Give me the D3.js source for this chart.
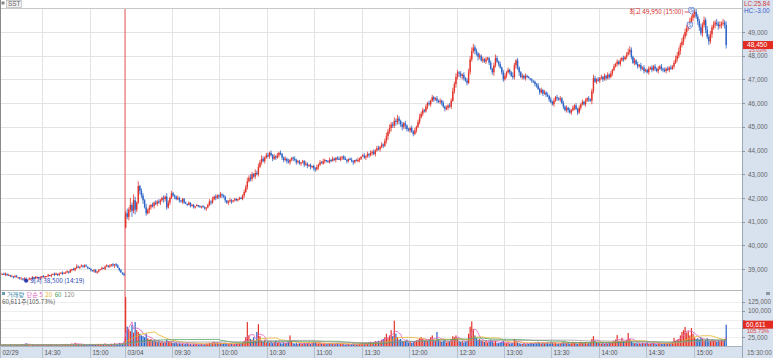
<!DOCTYPE html>
<html><head><meta charset="utf-8">
<script src="https://cdn.jsdelivr.net/npm/d3@7"></script>
<style>
body{margin:0;background:#fff;}
svg{display:block;font-family:"Liberation Sans",Arial,sans-serif;}
</style>
</head><body>
<svg id="chart" width="773" height="358"></svg>
<script>
// ---------------- DATA ----------------
const symbol = "SST";
const dateLabels = ["02/29", "03/04"];
const day1Range = ["14:03", "15:20"];   // plus closing auction 15:30
const day1Extra = ["15:30"];
const day2Range = ["09:00", "15:20"];
const day1FirstOpen = 38800;
const day2FirstOpen = 40750;
const tickSize = 50;

const day1Closes = [
38800,38800,38750,38800,38750,
38750,38700,38700,38650,38700,38650,38650,38600,
38600,38550,38600,38500,38550,38600,
38600,38650,38600,38650,38650,38600,38650,38700,38650,38700,38700,38750,
38700,38750,38800,38750,38800,38750,38800,38850,38800,38850,38850,38900,
38850,38950,39000,38950,39050,39100,39050,39100,
39150,39100,39150,39100,39050,39000,38950,
38900,38950,38850,38900,38950,39000,
39050,39000,39100,39150,39100,39150,39200,39150,39200,
39150,39050,38950,38850,38800,38750];

const day2Closes = [
41350,41200,41500,41700,41450,41900,41500,41800,42500,42300,
42100,41900,41600,41350,41500,41600,41700,41650,41800,41750,
41850,41800,41900,42000,41950,42050,41600,41800,42000,42200,
42100,42050,41950,42000,41900,41850,41950,41800,41750,41700,
41800,41650,41700,41600,41650,41700,41650,41600,41650,41600,
41550,41600,41700,41850,41800,41950,42050,42000,42100,42050,
42150,42100,42050,41900,41800,41850,41900,41850,41900,41950,
41900,41950,42000,41950,42100,42250,42450,42700,42850,42800,
43000,42900,43050,43000,43300,43500,43650,43550,43700,43800,
43750,43900,43800,43650,43750,43700,43800,43900,43850,43700,
43600,43650,43550,43500,43600,43700,43650,43600,43500,43550,
43450,43500,43550,43400,43450,43350,43400,43300,43350,43250,
43200,43300,43400,43500,43450,43550,43600,43550,43500,43600,
43550,43650,43600,43700,43650,43600,43700,43750,43650,43600,
43550,43650,43600,43550,43500,43600,43550,43600,43650,43750,
43800,43700,43750,43850,43800,43900,43950,43850,44000,44100,
44050,44150,44250,44200,44400,44600,44800,44950,45100,45050,
45250,45200,45350,45250,45100,45000,45150,45050,44900,44850,
44950,44800,44700,44850,45000,45200,45400,45550,45700,45650,
45850,46000,45950,46100,46250,46150,46200,46100,46050,46100,
46000,45850,45750,45800,45900,45850,46100,46500,46800,47100,
47300,47250,47150,47200,47050,46950,46850,47300,47850,48200,
48350,48200,48100,47950,48000,47800,47850,47750,47850,47900,
47700,47450,47300,47600,47900,47750,47650,47500,47300,47000,
47150,47300,47400,47300,47150,47100,47600,47800,47500,47300,
47100,47150,47050,47150,47100,47050,47000,46950,46900,46800,
46750,46600,46450,46550,46400,46450,46350,46300,46150,46050,
45950,46100,46250,46200,46150,46200,46000,45850,45700,45800,
45700,45600,45700,45800,45900,45750,45600,45800,45950,46050,
45950,46100,46200,46150,46100,46500,47050,46900,47000,46950,
47050,47100,47000,47150,47050,47200,47100,47250,47400,47550,
47650,47750,47650,47800,47900,47850,47950,48050,48150,48250,
47950,47700,47800,47650,47550,47600,47450,47500,47350,47400,
47300,47450,47500,47400,47550,47450,47350,47450,47550,47450,
47400,47350,47450,47400,47500,47450,47550,47700,47850,48000,
48200,48450,48600,48800,49000,49150,49300,49450,49600,49750,
49850,49650,49450,49200,48950,49300,49500,49100,48800,48600,
48900,49200,49300,49400,49350,49250,49300,49350,49400,49300,
48450];

// wick lengths in price ticks above max(open,close) / below min(open,close), one digit per candle
const day1WickHigh = "1011010101 1001011010 1011010100 1010110101 0110101021 0101100101 1010101101 010110101";
const day1WickLow  = "0101101010 0110110101 0101011010 1010101101 0101010110 1011010101 0110101011 112101011";
const day2WickHigh =
"3426253145 2213121212 1211213212 1112101110 1011010101 1012121211 2111012101 1011122323 2132323212 2121212121 " +
"1212101211 1011210101 1212121012 1210121012 1012101210 1212121212 2121232322 3232121211 1212123221 2121211212 " +
"1212122323 2121212333 3221212121 1212321212 2121132121 1212110101 1212121212 1212121212 1212121212 1212123212 " +
"1212121212 1212121233 2121212121 1212121212 1212121233 3232332323 2322323232 3232323232 3";
const day2WickLow =
"1232524213 2312132121 2121322121 1211212101 0101101010 1211211212 1212121211 1110121212 2121212121 1212121212 " +
"2121212121 1212121212 2121012101 1012101210 2101210121 0121212121 1212123232 2323232321 2121212121 1212121212 " +
"2121212123 2323212122 2323212121 2123212122 1212122323 1212101212 2121212121 1212121212 2121212121 1212132121 " +
"2121212121 1212121212 2121212121 1212121212 2121211212 2323232323 3233232323 2323232323 3";

// volume in thousand shares
const day1Volumes = [
3,2,4,3,2,3,5,3,2,4, 3,3,2,5,4,6,8,4,3,2, 3,4,2,3,3,2,4,3,2,3,
4,3,5,3,2,4,3,3,5,4, 3,6,4,3,5,7,4,9,6,5, 4,3,5,4,3,2,4,5,3,4,
3,6,5,4,3,5,7,4,3,5, 6,4,8,5,6,9,7,8,12];

const day2Volumes = [
139,55,48,42,60,38,68,45,40,35,
30,28,25,35,22,18,20,15,16,14,
12,15,10,12,9,11,18,14,12,10,
9,8,10,7,8,6,7,5,6,8,
5,6,4,7,5,6,4,5,6,4,
5,7,6,9,8,10,12,8,9,7,
8,6,7,9,6,5,7,6,5,6,
7,6,8,7,10,15,25,68,30,20,
18,25,15,40,62,28,15,12,18,10,
14,9,12,8,10,15,9,11,8,7,
10,8,9,12,30,14,8,7,9,6,
8,7,6,9,7,8,10,6,9,12,
11,8,7,9,6,8,7,5,6,8,
6,7,5,6,8,5,7,6,5,4,
5,6,4,5,7,5,4,6,5,7,
8,6,9,7,10,12,8,11,14,12,
15,12,18,20,25,35,22,30,45,28,
72,35,25,18,20,15,12,14,18,10,
12,9,11,14,16,18,22,25,20,15,
18,14,20,25,30,18,15,40,20,14,
12,15,18,10,12,14,20,28,25,30,
22,15,12,14,10,12,15,35,55,70,
48,30,22,18,20,15,14,12,15,10,
12,18,14,10,15,9,8,10,12,14,
9,8,10,7,8,9,20,15,10,8,
7,6,8,5,7,6,8,9,7,10,
8,12,9,7,10,8,9,11,7,12,
10,8,9,6,7,8,10,12,9,8,
10,7,8,12,9,8,6,10,12,9,
8,10,7,9,12,20,28,15,10,9,
8,7,9,6,8,7,10,9,12,15,
18,31,14,12,23,15,12,18,37,20,
14,10,8,9,7,8,6,9,7,8,
10,6,7,8,9,6,5,7,8,6,
7,8,6,9,8,10,12,23,15,18,
20,30,40,45,54,38,42,30,51,35,
24,20,22,18,25,20,15,17,22,16,
14,18,15,17,12,16,14,18,15,20,
60.611];

const wickMarks = [
  {day:0, i:16, low:38500},
  {day:1, i:0, high:41450, low:40700},
  {day:1, i:9, high:42550},
  {day:1, i:360, high:49950},
  {day:1, i:380, low:48300}
];

const priceTicks = [39000,40000,41000,42000,43000,44000,45000,46000,47000,48000,49000];
const volumeTicks = [25,50,75,100,125];
const timeTicks = [
  {day:0,t:"14:30"},{day:0,t:"15:00"},
  {day:1,t:"09:30"},{day:1,t:"10:00"},{day:1,t:"10:30"},{day:1,t:"11:00"},
  {day:1,t:"11:30"},{day:1,t:"12:00"},{day:1,t:"12:30"},{day:1,t:"13:00"},
  {day:1,t:"13:30"},{day:1,t:"14:00"},{day:1,t:"14:30"},{day:1,t:"15:00"}
];
const maPeriods = [5,20,60,120];
const maColors = ["#e05fc0","#e8b428","#4aa05a","#9a9a9a"];
const legendParts = ["거래량","단순 5","20","60","120"];
const legendColors = ["#3a88a8","#e05fc0","#e8b428","#4aa05a","#888888"];
const highNote = {label:"최고 49,950 (15:00)", day:1, t:"15:00", price:49950};
const lowNote = {label:"최저 38,500 (14:19)", day:0, t:"14:19", price:38500};
const lastPrice = 48450, lastPct = "25.03%";
const lastVolume = 60611, lastVolPct = "105.73%";
const lcText = "LC:25.84", hcText = "HC:-3.00";
const clockText = "15:30:00";

// ---------------- BUILD ----------------
const toMin = s => { const [h,m]=s.split(":").map(Number); return h*60+m; };
const fmtT = m => String(Math.floor(m/60)).padStart(2,"0")+":"+String(m%60).padStart(2,"0");
function minutes(a,b){ const r=[]; for(let m=toMin(a); m<=toMin(b); m++) r.push(fmtT(m)); return r; }
const digits = s => s.replace(/\s+/g,"").split("").map(Number);
const day1Times = minutes(day1Range[0], day1Range[1]).concat(day1Extra);
const day2Times = minutes(day2Range[0], day2Range[1]);

const candles = [];
function addDay(day, times, closes, vols, firstOpen, wh, wl){
  const hi = digits(wh), lo = digits(wl);
  closes.forEach((c,k)=>{
    const o = k===0 ? firstOpen : closes[k-1];
    candles.push({day, k, t:times[k], o, c,
      h:Math.max(o,c)+(hi[k]||0)*tickSize, l:Math.min(o,c)-(lo[k]||0)*tickSize, v:vols[k]});
  });
}
addDay(0, day1Times, day1Closes, day1Volumes, day1FirstOpen, day1WickHigh, day1WickLow);
addDay(1, day2Times, day2Closes, day2Volumes, day2FirstOpen, day2WickHigh, day2WickLow);
candles.forEach((d,i)=>d.idx=i);
wickMarks.forEach(w=>{
  const d = candles.find(c=>c.day===w.day && c.k===w.i);
  if(!d) return;
  if(w.high!==undefined) d.h=w.high;
  if(w.low!==undefined) d.l=w.low;
});
const idxOf = (day,t)=> { const d=candles.find(c=>c.day===day && c.t===t); return d?d.idx:null; };

// ---------------- LAYOUT ----------------
const W=773, H=358;
const plotL=0, plotR=742, priceTop=9, priceBot=290, volBot=346;
const UP="#e3342b", DOWN="#2b63c6";
const CJK="'Noto Sans CJK KR','Liberation Sans',sans-serif";
const svg = d3.select("#chart");
const x = d3.scaleLinear().domain([-0.5, 469]).range([plotL, plotR]);
const y = d3.scaleLinear().domain([39000, 49000]).range([269, 32]);
const yv = d3.scaleLinear().domain([0, 125]).range([volBot, 302]);
const col = d => d.c>=d.o ? UP : DOWN;

// background panels
svg.append("rect").attr("x",0).attr("y",0).attr("width",W).attr("height",H).attr("fill","#fff");
svg.append("rect").attr("x",plotR).attr("y",0).attr("width",W-plotR).attr("height",H).attr("fill","#d8e2ef");
svg.append("rect").attr("x",0).attr("y",volBot).attr("width",plotR).attr("height",H-volBot).attr("fill","#d8e2ef");

// gridlines
const grid = svg.append("g").attr("stroke","#e3e3e3").attr("stroke-width",1);
priceTicks.forEach(p=>grid.append("line").attr("x1",plotL).attr("x2",plotR).attr("y1",Math.round(y(p))+0.5).attr("y2",Math.round(y(p))+0.5));
volumeTicks.forEach(v=>grid.append("line").attr("x1",plotL).attr("x2",plotR).attr("y1",Math.round(yv(v))+0.5).attr("y2",Math.round(yv(v))+0.5).attr("stroke","#eeeeee"));
timeTicks.forEach(tk=>{
  const i=idxOf(tk.day,tk.t); const xx=Math.round(x(i))-0.5;
  grid.append("line").attr("x1",xx).attr("x2",xx).attr("y1",priceTop).attr("y2",volBot);
});

// clip
const defs = svg.append("defs");
defs.append("clipPath").attr("id","cp").append("rect").attr("x",plotL).attr("y",priceTop).attr("width",plotR-plotL).attr("height",priceBot-priceTop);
defs.append("clipPath").attr("id","cv").append("rect").attr("x",plotL).attr("y",priceBot+1).attr("width",plotR-plotL).attr("height",volBot-priceBot-1);

// day separator
const sepX = x(idxOf(1,"09:00"))-0.6;
svg.append("line").attr("x1",sepX).attr("x2",sepX).attr("y1",priceTop).attr("y2",volBot).attr("stroke","#e05050").attr("stroke-width",1);

// candles
const gp = svg.append("g").attr("clip-path","url(#cp)");
gp.selectAll("line.w").data(candles).join("line").attr("class","w")
  .attr("x1",d=>x(d.idx)).attr("x2",d=>x(d.idx)).attr("y1",d=>y(d.h)).attr("y2",d=>y(d.l))
  .attr("stroke",col).attr("stroke-width",0.8);
gp.selectAll("rect.b").data(candles).join("rect").attr("class","b")
  .attr("x",d=>x(d.idx)-0.7).attr("width",1.4)
  .attr("y",d=>y(Math.max(d.o,d.c))).attr("height",d=>Math.max(1,y(Math.min(d.o,d.c))-y(Math.max(d.o,d.c))))
  .attr("fill",col);

// volume bars
const gv = svg.append("g").attr("clip-path","url(#cv)");
gv.selectAll("rect").data(candles).join("rect")
  .attr("x",d=>x(d.idx)-0.6).attr("width",1.2)
  .attr("y",d=>yv(d.v)).attr("height",d=>volBot-yv(d.v)).attr("fill",col);

// volume moving averages
maPeriods.forEach((n,pi)=>{
  const ma = candles.map((d,i)=>{ const s=candles.slice(Math.max(0,i-n+1),i+1); return {idx:d.idx, v:d3.mean(s,e=>e.v)}; });
  gv.append("path").datum(ma).attr("fill","none").attr("stroke",maColors[pi]).attr("stroke-width",0.9).attr("opacity",0.9)
    .attr("d", d3.line().x(d=>x(d.idx)).y(d=>yv(d.v)));
});

// frame lines
svg.append("line").attr("x1",0).attr("x2",plotR).attr("y1",priceTop-0.5).attr("y2",priceTop-0.5).attr("stroke","#c8c8c8");
svg.append("line").attr("x1",0).attr("x2",plotR).attr("y1",priceBot+0.5).attr("y2",priceBot+0.5).attr("stroke","#b8b8b8");
svg.append("line").attr("x1",plotR+0.5).attr("x2",plotR+0.5).attr("y1",0).attr("y2",H).attr("stroke","#9aa6b4");
svg.append("line").attr("x1",0.5).attr("x2",0.5).attr("y1",0).attr("y2",H).attr("stroke","#8a8a8a");
svg.append("line").attr("x1",0).attr("x2",plotR).attr("y1",volBot+0.5).attr("y2",volBot+0.5).attr("stroke","#a8b4c2");

// right price axis
const yp = y(lastPrice);
const yvl = yv(lastVolume/1000);
const ax = svg.append("g").attr("font-size","6.4px").attr("fill","#666");
priceTicks.forEach(p=>{
  svg.append("line").attr("x1",plotR).attr("x2",plotR+3).attr("y1",Math.round(y(p))+0.5).attr("y2",Math.round(y(p))+0.5).attr("stroke","#8a96a4");
  ax.append("text").attr("x",plotR+6).attr("y",y(p)+2.6).text(d3.format(",")(p));
});
volumeTicks.forEach(v=>{
  svg.append("line").attr("x1",plotR).attr("x2",plotR+3).attr("y1",Math.round(yv(v))+0.5).attr("y2",Math.round(yv(v))+0.5).attr("stroke","#8a96a4");
  if (Math.abs(yv(v)-yvl) < 6) return; // hidden under the current-volume box, as in the original
  ax.append("text").attr("x",plotR+6).attr("y",yv(v)+2.3).text(d3.format(",")(v*1000));
});
// current price box
svg.append("rect").attr("x",plotR+1).attr("y",yp-4).attr("width",W-plotR-1).attr("height",8).attr("fill","#e32b22");
svg.append("text").attr("x",plotR+5).attr("y",yp+2.4).attr("font-size","6.6px").attr("fill","#fff").text(d3.format(",")(lastPrice));
svg.append("text").attr("x",plotR+7).attr("y",yp+7.4).attr("font-size","5.2px").attr("fill","#e04040").text(lastPct);
svg.append("rect").attr("x",plotR+1).attr("y",yvl-4).attr("width",W-plotR-1).attr("height",8).attr("fill","#e32b22");
svg.append("text").attr("x",plotR+4).attr("y",yvl+2.4).attr("font-size","6.6px").attr("fill","#fff").text(d3.format(",")(lastVolume));
svg.append("text").attr("x",plotR+5).attr("y",yvl+8.4).attr("font-size","5.6px").attr("fill","#e04040").text(lastVolPct);
svg.append("text").attr("x",plotR+2).attr("y",6).attr("font-size","6.4px").attr("fill","#d04040").text(lcText);
svg.append("text").attr("x",plotR+2).attr("y",12.5).attr("font-size","6.4px").attr("fill","#3a5fc8").text(hcText);
svg.append("text").attr("x",plotR+5).attr("y",355).attr("font-size","6.4px").attr("fill","#666").text(clockText);
svg.append("rect").attr("x",766).attr("y",292).attr("width",4).attr("height",3).attr("fill","#8a96a4");

// time axis labels
const tx = svg.append("g").attr("font-size","6.4px").attr("fill","#555");
[{day:0,t:day1Times[0],lab:dateLabels[0]},{day:1,t:day2Times[0],lab:dateLabels[1]}].concat(timeTicks.map(tk=>({day:tk.day,t:tk.t,lab:tk.t}))).forEach(tk=>{
  const i=idxOf(tk.day,tk.t);
  const xx = Math.round(x(i))-0.5;
  tx.append("line").attr("x1",xx).attr("x2",xx).attr("y1",volBot).attr("y2",H).attr("stroke","#b4bfcc");
  tx.append("text").attr("x",Math.max(2,xx+2)).attr("y",355).text(tk.lab);
});

// header
svg.append("rect").attr("x",1.5).attr("y",1.5).attr("width",3).attr("height",3).attr("fill","#888");
svg.append("rect").attr("x",6.5).attr("y",0.5).attr("width",15).attr("height",7).attr("fill","#f2f2f2").attr("stroke","#b0b0b0").attr("stroke-width",0.6);
svg.append("text").attr("x",8).attr("y",6.3).attr("font-size","6.4px").attr("fill","#666").text(symbol);

// volume legend (separate texts laid out by measured width)
svg.append("rect").attr("x",2).attr("y",292).attr("width",3).attr("height",3).attr("fill","#6a9ab0");
let lx = 7;
legendParts.forEach((s,k)=>{
  const t = svg.append("text").attr("x",lx).attr("y",296.5).attr("font-size","6.2px").attr("font-family",CJK)
    .attr("fill",legendColors[k]).text(s);
  lx += t.node().getComputedTextLength() + 2.5;
});
svg.append("text").attr("x",2).attr("y",304).attr("font-size","6.2px").attr("fill","#555")
  .attr("font-family",CJK).text(d3.format(",")(lastVolume)+"주("+lastVolPct+")");

// annotations
const hi = idxOf(highNote.day, highNote.t);
const hy = y(highNote.price)+2.5;
defs.append("marker").attr("id","ar").attr("viewBox","0 0 6 6").attr("refX",5).attr("refY",3).attr("markerWidth",4).attr("markerHeight",4).attr("orient","auto")
  .append("path").attr("d","M0,0L6,3L0,6Z").attr("fill","#d42a2a");
svg.append("line").attr("x1",x(hi)-10).attr("x2",x(hi)-2).attr("y1",hy).attr("y2",hy).attr("stroke","#d42a2a").attr("stroke-width",0.8).attr("marker-end","url(#ar)");
svg.append("text").attr("x",x(hi)-11).attr("y",hy+2.3).attr("text-anchor","end").attr("font-size","6.4px").attr("fill","#d42a2a")
  .attr("font-family",CJK).text(highNote.label);

const li = idxOf(lowNote.day, lowNote.t);
svg.append("circle").attr("cx",x(li)).attr("cy",y(lowNote.price)).attr("r",2).attr("fill","#2a3fb0");
svg.append("text").attr("x",x(li)+4).attr("y",y(lowNote.price)+2.3).attr("font-size","6.4px").attr("fill","#2a3fb0")
  .attr("font-family",CJK).text(lowNote.label);

// signal markers
[{t:"14:58",dy:-7},{t:"14:57",dy:4}].forEach(s=>{
  const i=idxOf(1,s.t); const d=candles[i];
  const cx=x(i), cy=y(d.c)+s.dy;
  svg.append("path").attr("d",`M${cx-2.5},${cy-3}L${cx+2.5},${cy-3}L${cx+2.5},${cy+1}L${cx},${cy+3.5}L${cx-2.5},${cy+1}Z`)
    .attr("fill","#fff").attr("stroke","#3a5fc8").attr("stroke-width",0.7);
  svg.append("text").attr("x",cx).attr("y",cy+1.6).attr("text-anchor","middle").attr("font-size","4.5px").attr("fill","#3a5fc8").text("S");
});
</script>
</body></html>
